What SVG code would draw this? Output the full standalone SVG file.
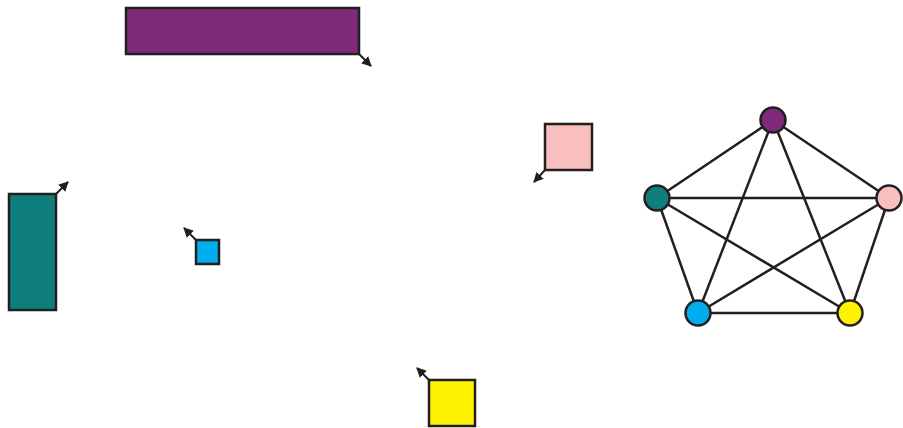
<svg xmlns="http://www.w3.org/2000/svg" width="903" height="428" viewBox="0 0 903 428">
<style>
.n{stroke:#231f20;stroke-width:2.5}
.e{stroke:#231f20;stroke-width:2.5;fill:none}
.a{stroke:#231f20;stroke-width:2;fill:none}
.p{fill:#7f2a7b}.t{fill:#0e7f7c}.b{fill:#00aeef}.k{fill:#f9bfbf}.y{fill:#fff200}
</style>
<defs>
<marker id="ah" viewBox="0 0 10 10" refX="9" refY="5" markerWidth="5" markerHeight="5" orient="auto" markerUnits="strokeWidth">
<path d="M0,0 L10,5 L0,10 Z" fill="#231f20"/>
</marker>
</defs>
<g id="connectors">
<line class="e" x1="773" y1="120" x2="657" y2="198"/>
<line class="e" x1="773" y1="120" x2="889" y2="198"/>
<line class="e" x1="773" y1="120" x2="698" y2="313"/>
<line class="e" x1="773" y1="120" x2="850" y2="313"/>
<line class="e" x1="657" y1="198" x2="889" y2="198"/>
<line class="e" x1="657" y1="198" x2="698" y2="313"/>
<line class="e" x1="657" y1="198" x2="850" y2="313"/>
<line class="e" x1="889" y1="198" x2="698" y2="313"/>
<line class="e" x1="889" y1="198" x2="850" y2="313"/>
<line class="e" x1="698" y1="313" x2="850" y2="313"/>
<line class="a" x1="359" y1="54" x2="371" y2="66" marker-end="url(#ah)"/>
<line class="a" x1="56" y1="194" x2="68" y2="182" marker-end="url(#ah)"/>
<line class="a" x1="196" y1="240" x2="184" y2="228" marker-end="url(#ah)"/>
<line class="a" x1="545" y1="170" x2="534" y2="182" marker-end="url(#ah)"/>
<line class="a" x1="429" y1="380" x2="417" y2="368" marker-end="url(#ah)"/>
</g>
<g id="rect-purple"><rect class="n p" x="126" y="8" width="233" height="46"/></g>
<g id="rect-teal"><rect class="n t" x="9" y="194" width="47" height="116"/></g>
<g id="rect-blue"><rect class="n b" x="196" y="240" width="23" height="24"/></g>
<g id="rect-pink"><rect class="n k" x="545" y="124" width="47" height="46"/></g>
<g id="rect-yellow"><rect class="n y" x="429" y="380" width="46" height="46"/></g>
<g id="node-purple"><circle class="n p" cx="773" cy="120" r="12.5"/></g>
<g id="node-teal"><circle class="n t" cx="657" cy="198" r="12.5"/></g>
<g id="node-pink"><circle class="n k" cx="889" cy="198" r="12.5"/></g>
<g id="node-blue"><circle class="n b" cx="698" cy="313" r="12.5"/></g>
<g id="node-yellow"><circle class="n y" cx="850" cy="313" r="12.5"/></g>
</svg>
